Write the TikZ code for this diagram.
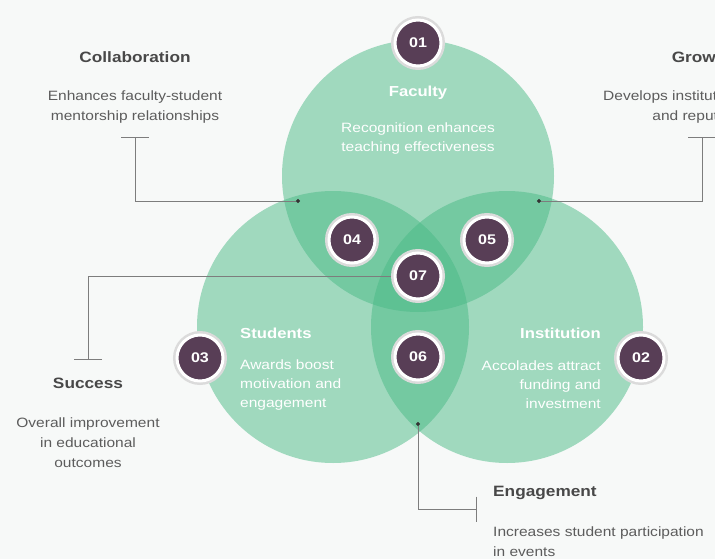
\documentclass[tikz,border=0pt]{standalone}
\usepackage{fontspec}
\setmainfont{Liberation Sans}[FakeStretch=1.15]
\usetikzlibrary{arrows.meta}

\definecolor{venngreen}{RGB}{74,186,134}
\definecolor{badgepurple}{RGB}{88,62,86}
\definecolor{titlegray}{RGB}{72,72,72}
\definecolor{textgray}{RGB}{92,92,92}
\definecolor{linegray}{RGB}{125,125,125}
\definecolor{bggray}{RGB}{247,249,248}

\tikzset{
	venn/.style={circle, fill=venngreen, fill opacity=0.5, minimum size=272pt, inner sep=0pt},
	badge/.style={circle, fill=badgepurple, draw=white, line width=3pt, minimum size=46pt, inner sep=0pt,
		preaction={draw=black!14, line width=8pt}, text=white, font=\bfseries\fontsize{14}{14}\selectfont},
	headline/.style={text=titlegray, font=\bfseries\fontsize{15}{18}\selectfont, inner sep=0pt},
	remark/.style={text=textgray, font=\fontsize{13.5}{20}\selectfont, inner sep=0pt},
	inhead/.style={text=white, font=\bfseries\fontsize{14.5}{18}\selectfont, inner sep=0pt},
	inremark/.style={text=white, font=\fontsize{13.5}{19}\selectfont, inner sep=0pt},
	leader/.style={draw=linegray, line width=0.9pt},
}

\begin{document}
\begin{tikzpicture}[x=1pt, y=-1pt]
	\path[use as bounding box, fill=bggray] (0,0) rectangle (715,559);

	%the three circles
	\node[venn] (faculty) at (418,176){};
	\node[venn] (students) at (333,327){};
	\node[venn] (institution) at (507,327){};

	%leader lines
	\coordinate (collabtick) at (135,137);
	\coordinate (collabdot) at (300,201);
	\coordinate (growthtick) at (702,137);
	\coordinate (growthdot) at (537,201);
	\coordinate (successtick) at (88,360);
	\coordinate (successend) at (418,276);
	\coordinate (engdot) at (418,422);
	\coordinate (engtick) at (477,509);

	\draw[leader, {Bar[width=28pt]}-{Circle[length=4pt, color=black!80]}] (collabtick) |- (collabdot);
	\draw[leader, {Bar[width=28pt]}-{Circle[length=4pt, color=black!80]}] (growthtick) |- (growthdot);
	\draw[leader, {Bar[width=28pt]}-] (successtick) |- (successend);
	\draw[leader, {Circle[length=4pt, color=black!80]}-{Bar[width=25pt]}] (engdot) |- (engtick);

	%number badges
	\foreach \i/\x/\y in {01/418/43, 02/641/358, 03/200/358, 04/352/240, 05/487/240, 06/418/357, 07/418/276}{
		\node[badge] (b\i) at (\x,\y){\i};
	}

	%texts inside the circles
	\node[inhead] (facultytitle) at (418,93){Faculty};
	\node[inremark, align=center] (facultytext) at (418,139){Recognition enhances\\teaching effectiveness};
	\node[inhead, anchor=west] (studentstitle) at (240,333){Students};
	\node[inremark, align=left, anchor=west] (studentstext) at (240,385){Awards boost\\motivation and\\engagement};
	\node[inhead, anchor=east] (institutiontitle) at (601,333){Institution};
	\node[inremark, align=right, anchor=east] (institutiontext) at (601,385){Accolades attract\\funding and\\investment};

	%texts outside
	\node[headline] (collabtitle) at (135,57){Collaboration};
	\node[remark, align=center] (collabtext) at (135,107){Enhances faculty-student\\mentorship relationships};
	\node[headline] (growthtitle) at (702,57){Growth};
	\node[remark, align=center] (growthtext) at (702,107){Develops institutional growth\\and reputation};
	\node[headline] (successtitle) at (88,383){Success};
	\node[remark, align=center] (successtext) at (88,443){Overall improvement\\in educational\\outcomes};
	\node[headline, anchor=west] (engtitle) at (493,493){Engagement};
	\node[remark, align=left, anchor=west] (engtext) at (493,542){Increases student participation\\in events};
\end{tikzpicture}
\end{document}
